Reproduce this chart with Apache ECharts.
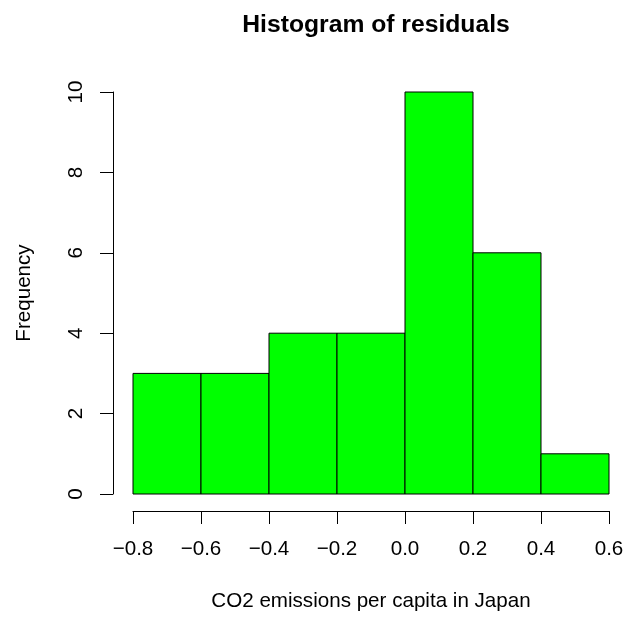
<!DOCTYPE html>
<html>
<head>
<meta charset="utf-8">
<script src="https://cdn.jsdelivr.net/npm/echarts@6/dist/echarts.min.js"></script>
<style>
html,body{margin:0;padding:0;background:#fff;}
#c{width:627px;height:617px;}
</style>
</head>
<body>
<div id="c"></div>
<script>
// Data
var binStarts = [-0.8, -0.6, -0.4, -0.2, 0.0, 0.2, 0.4];
var binEnds   = [-0.6, -0.4, -0.2, 0.0, 0.2, 0.4, 0.6];
var counts    = [3, 3, 4, 4, 10, 6, 1];
var xTicks = [-0.8, -0.6, -0.4, -0.2, 0.0, 0.2, 0.4, 0.6];
var yTicks = [0, 2, 4, 6, 8, 10];

var titleText = 'Histogram of residuals';
var xLabel = 'CO2 emissions per capita in Japan';
var yLabel = 'Frequency';

var data = binStarts.map(function (s, i) { return [s, binEnds[i], counts[i]]; });

var FONT = 'Liberation Sans, Arial, Helvetica, sans-serif';
var chart = echarts.init(document.getElementById('c'), null, {renderer: 'canvas'});

function fmtX(v) {
  var r = Math.round(v * 10) / 10;
  var s = Math.abs(r).toFixed(1);
  return r < 0 ? '\u2212' + s : s;
}

chart.setOption({
  backgroundColor: '#ffffff',
  animation: false,
  title: {
    text: titleText,
    left: 371,
    top: 8,
    textAlign: 'center',
    textStyle: {fontFamily: FONT, fontSize: 24.7, fontWeight: 'bold', color: '#000'}
  },
  grid: {left: 133, top: 92, width: 476, height: 404, containLabel: false},
  xAxis: {
    type: 'value',
    min: xTicks[0],
    max: xTicks[xTicks.length - 1],
    interval: 0.2,
    offset: 17,
    axisLine: {show: true, onZero: false, lineStyle: {color: '#000', width: 1}},
    axisTick: {show: true, length: 13, lineStyle: {color: '#000', width: 1}},
    splitLine: {show: false},
    axisLabel: {
      margin: 28,
      color: '#000',
      fontFamily: FONT,
      fontSize: 20.6,
      formatter: fmtX,
      showMinLabel: true,
      showMaxLabel: true
    },
    name: xLabel,
    nameLocation: 'middle',
    nameGap: 80,
    nameTextStyle: {fontFamily: FONT, fontSize: 20.6, color: '#000'}
  },
  yAxis: {
    type: 'value',
    min: yTicks[0],
    max: yTicks[yTicks.length - 1],
    interval: 2,
    offset: 20,
    axisLine: {show: true, onZero: false, lineStyle: {color: '#000', width: 1}},
    axisTick: {show: true, length: 13, lineStyle: {color: '#000', width: 1}},
    splitLine: {show: false},
    axisLabel: {
      margin: 26,
      rotate: 90,
      color: '#000',
      fontFamily: FONT,
      fontSize: 20.6,
      showMinLabel: true,
      showMaxLabel: true
    },
    name: yLabel,
    nameLocation: 'middle',
    nameGap: 78,
    nameRotate: 90,
    nameTextStyle: {fontFamily: FONT, fontSize: 20.6, color: '#000'}
  },
  series: [{
    type: 'custom',
    data: data,
    encode: {x: [0, 1], y: 2},
    renderItem: function (params, api) {
      var p0 = api.coord([api.value(0), api.value(2)]);
      var p1 = api.coord([api.value(1), 0]);
      return {
        type: 'rect',
        shape: {x: p0[0], y: p0[1], width: p1[0] - p0[0], height: p1[1] - p0[1]},
        style: {fill: '#00ff00', stroke: '#000', lineWidth: 1}
      };
    }
  }]
});
</script>
</body>
</html>
